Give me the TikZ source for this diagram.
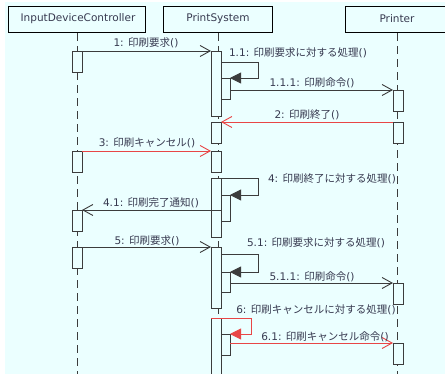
\documentclass[tikz,border=0pt]{standalone}
\usepackage{fontspec}
\setmainfont{DejaVu Sans}
\newfontfamily\cjk{Noto Sans CJK JP}
\usetikzlibrary{arrows.meta}

\definecolor{bgcyan}{RGB}{235,255,255}
\definecolor{linegray}{RGB}{60,60,60}
\definecolor{msgred}{RGB}{232,70,70}
\definecolor{labelink}{RGB}{55,58,80}

\tikzset{
  header/.style={draw=black, line width=1.1pt, fill=bgcyan, minimum height=26pt,
    inner sep=0pt, anchor=north west, font=\fontsize{10.5}{12}\selectfont, text=labelink},
  lifeline/.style={draw=linegray, line width=1pt, dash pattern=on 8pt off 5pt},
  actbox/.style={draw=linegray, line width=0.9pt, fill=bgcyan, minimum width=10pt,
    inner sep=0pt, outer sep=0pt, anchor=north west},
  nestbox/.style={actbox, minimum width=9pt},
  msg/.style={draw=linegray, line width=0.9pt, -{Straight Barb[length=10pt,width=11pt]}},
  redmsg/.style={msg, draw=msgred},
  selfmsg/.style={draw=linegray, line width=0.9pt, -{Triangle[length=11pt,width=11pt]}},
  redself/.style={selfmsg, draw=msgred},
  lbl/.style={font=\fontsize{10.5}{12}\selectfont, text=labelink, inner sep=0pt},
}

\begin{document}
\begin{tikzpicture}[x=1pt, y=-1pt]
  \useasboundingbox (0,0) rectangle (445,374);
  \clip (0,0) rectangle (445,374);
  \fill[bgcyan] (5,2) rectangle (445,374);
  \coordinate (bottom) at (0,376);

  % lifeline heads
  \node[header, minimum width=137pt] (idc) at (8,6) {};
  \node[lbl] at (78,19) {InputDeviceController};
  \node[header, minimum width=109pt] (ps) at (163,6) {};
  \node[lbl] at (218,19) {PrintSystem};
  \node[header, minimum width=104pt] (pr) at (345,6) {};
  \node[lbl] at (397,19) {Printer};

  % lifelines
  \draw[lifeline] (idc.south) -- (idc.south |- bottom);
  \draw[lifeline] (ps.south)  -- (ps.south |- bottom);
  \draw[lifeline] (pr.south)  -- (pr.south |- bottom);

  % activations: InputDeviceController
  \node[actbox, minimum height=21pt] (a1) at (72,51) {};
  \node[actbox, minimum height=21pt] (a2) at (72,151) {};
  \node[actbox, minimum height=21pt] (a3) at (72,210) {};
  \node[actbox, minimum height=21pt] (a4) at (72,247) {};

  % activations: PrintSystem
  \node[actbox, minimum height=65pt] (p1) at (211,51) {};
  \node[actbox, minimum height=21pt] (p2) at (211,122) {};
  \node[actbox, minimum height=21pt] (p3) at (211,151) {};
  \node[actbox, minimum height=59pt] (p4) at (211,178) {};
  \node[actbox, minimum height=61pt] (p5) at (211,247) {};
  \node[actbox, minimum height=60pt] (p6) at (211,318) {};
  \node[nestbox, minimum height=21pt] (n1) at (221,78) {};
  \node[nestbox, minimum height=26pt] (n2) at (221,195) {};
  \node[nestbox, minimum height=20pt] (n3) at (221,272) {};
  \node[nestbox, minimum height=21pt] (n4) at (221,334) {};

  % activations: Printer
  \node[actbox, minimum height=21pt] (r1) at (393,90) {};
  \node[actbox, minimum height=21pt] (r2) at (393,122) {};
  \node[actbox, minimum height=21pt] (r3) at (393,283) {};
  \node[actbox, minimum height=21pt] (r4) at (393,343) {};

  % messages
  \draw[msg] (a1.north east) -- (p1.north west);
  \node[lbl] at (146,43) {1: {\cjk 印刷要求}()};

  \draw[selfmsg] ([yshift=-11pt]p1.north east) -- ++(37,0) |- (n1.north east);
  \node[lbl] at (298,53) {1.1: {\cjk 印刷要求に対する処理}()};

  \draw[msg] ([yshift=-12pt]n1.north east) -- (r1.north west);
  \node[lbl] at (312,83) {1.1.1: {\cjk 印刷命令}()};

  \draw[redmsg] (r2.north west) -- (p2.north east);
  \node[lbl] at (307,115) {2: {\cjk 印刷終了}()};

  \draw[redmsg] (a2.north east) -- (p3.north west);
  \node[lbl] at (147,143) {3: {\cjk 印刷キャンセル}()};

  \draw[selfmsg] (p4.north east) -- ++(37,0) |- (n2.north east);
  \node[lbl] at (332,179) {4: {\cjk 印刷終了に対する処理}()};

  \draw[msg] ([yshift=-15pt]n2.north west) -- (a3.north east);
  \node[lbl] at (151,203) {4.1: {\cjk 印刷完了通知}()};

  \draw[msg] (a4.north east) -- (p5.north west);
  \node[lbl] at (147,241) {5: {\cjk 印刷要求}()};

  \draw[selfmsg] ([yshift=-7pt]p5.north east) -- ++(37,0) |- (n3.north east);
  \node[lbl] at (316,243) {5.1: {\cjk 印刷要求に対する処理}()};

  \draw[msg] ([yshift=-11pt]n3.north east) -- (r3.north west);
  \node[lbl] at (312,277) {5.1.1: {\cjk 印刷命令}()};

  \draw[redself] (p6.north west) -- ++(40,0) |- (n4.north east);
  \node[lbl] at (316,310) {6: {\cjk 印刷キャンセルに対する処理}()};

  \draw[redmsg] ([yshift=-9pt]n4.north east) -- (r4.north west);
  \node[lbl] at (325,337) {6.1: {\cjk 印刷キャンセル命令}()};
\end{tikzpicture}
\end{document}
